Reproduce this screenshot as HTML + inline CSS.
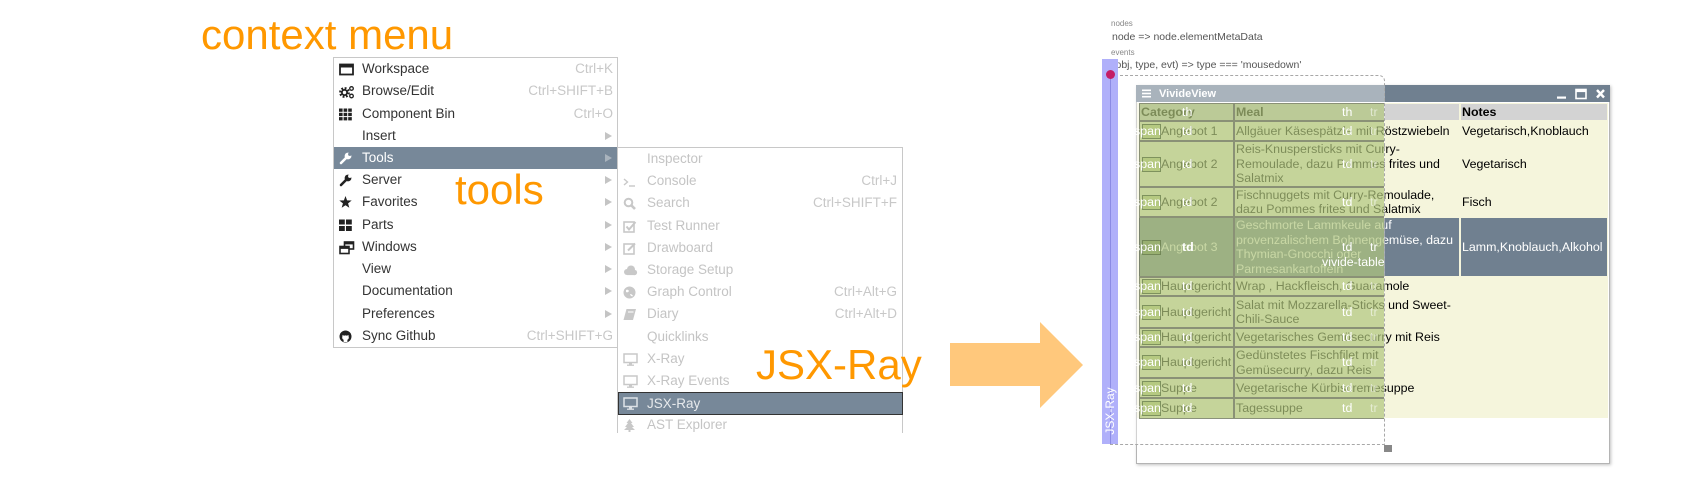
<!DOCTYPE html>
<html><head><meta charset="utf-8">
<style>
*{margin:0;padding:0;box-sizing:border-box}
body{width:1696px;height:490px;background:#fff;position:relative;overflow:hidden;font-family:"Liberation Sans",Arial,sans-serif}
.big{position:absolute;font-size:42px;line-height:42px;color:#ff9800;white-space:nowrap}
.menu{position:absolute;background:#fff;border:1px solid #c8c8c8}
.mi{position:absolute;left:0;right:0;height:22px;line-height:22px;font-size:13.5px;color:#333;white-space:nowrap}
.mi .t{position:absolute;left:28px;top:0}
.mi .k{position:absolute;right:4px;top:0;color:#c8c8c8}
.mi .a{position:absolute;right:5px;top:7px;width:0;height:0;border-top:4px solid transparent;border-bottom:4px solid transparent;border-left:7px solid #c4c4c4}
.mi svg{position:absolute;left:5px;top:5px}
.sub .mi{color:#c4c4c4}
.sub .mi .t{left:29px}
.sub .mi .k{right:5px}
.sm{position:absolute;font-size:8px;color:#888;white-space:nowrap;line-height:10px}
.code{position:absolute;font-size:10.5px;color:#555;white-space:nowrap;line-height:12px}
.c{position:absolute;display:flex;align-items:center;font-size:12.4px;line-height:14.5px;color:#000;white-space:nowrap}
.b{font-weight:bold}
.ov{position:absolute;left:1110px;top:75px;width:275px;height:370px;border:1px dashed #a8a8a8;border-top-right-radius:6px;background:rgba(255,255,255,0.4);overflow:hidden}
.g{position:absolute;background:rgba(145,175,74,0.5);border:1px solid rgba(90,90,90,0.55)}
.sp{position:absolute;left:31px;width:19px;height:15px;border:1px solid rgba(90,110,70,0.6);background:rgba(145,175,74,0.3)}
.l{position:absolute;font-size:12.4px;line-height:14px;color:#fff;white-space:nowrap}
.lt{color:rgba(255,255,255,0.55)}
</style></head><body>

<!-- big orange labels -->
<div class="big" style="left:201px;top:14px">context menu</div>

<!-- main menu -->
<div class="menu" style="left:333px;top:57px;width:285px;height:291px">
  <div class="mi" style="top:0px"><svg width="15" height="13" viewBox="0 0 15 13"><rect x="1" y="1.5" width="13" height="10" fill="none" stroke="#222" stroke-width="1.8"/><rect x="1" y="1.5" width="13" height="3" fill="#222"/></svg><span class="t">Workspace</span><span class="k">Ctrl+K</span></div>
  <div class="mi" style="top:22.2px"><svg width="16" height="14" viewBox="0 0 16 14"><circle cx="5.5" cy="7.5" r="4.2" fill="none" stroke="#222" stroke-width="2.4" stroke-dasharray="1.8 1.5"/><circle cx="5.5" cy="7.5" r="2.6" fill="none" stroke="#222" stroke-width="1.8"/><circle cx="12.5" cy="3.5" r="1.8" fill="none" stroke="#222" stroke-width="1.3"/><circle cx="12.5" cy="11" r="1.8" fill="none" stroke="#222" stroke-width="1.3"/></svg><span class="t">Browse/Edit</span><span class="k">Ctrl+SHIFT+B</span></div>
  <div class="mi" style="top:44.5px"><svg width="14" height="13" viewBox="0 0 14 13"><g fill="#222"><rect x="0" y="0.5" width="3.6" height="3.3"/><rect x="4.6" y="0.5" width="3.6" height="3.3"/><rect x="9.2" y="0.5" width="3.6" height="3.3"/><rect x="0" y="4.8" width="3.6" height="3.3"/><rect x="4.6" y="4.8" width="3.6" height="3.3"/><rect x="9.2" y="4.8" width="3.6" height="3.3"/><rect x="0" y="9.1" width="3.6" height="3.3"/><rect x="4.6" y="9.1" width="3.6" height="3.3"/><rect x="9.2" y="9.1" width="3.6" height="3.3"/></g></svg><span class="t">Component Bin</span><span class="k">Ctrl+O</span></div>
  <div class="mi" style="top:66.7px"><span class="t">Insert</span><span class="a"></span></div>
  <div class="mi" style="top:88.9px;background:#778899;color:#fff"><svg width="13" height="13" viewBox="0 0 13 13"><line x1="2" y1="11" x2="7.5" y2="5.5" stroke="#fff" stroke-width="2.6" stroke-linecap="round"/><circle cx="9" cy="4" r="3.4" fill="#fff"/><circle cx="10.8" cy="2.2" r="1.7" fill="#778899"/></svg><span class="t">Tools</span><span class="a" style="border-left-color:#a9b3bd"></span></div>
  <div class="mi" style="top:111.2px"><svg width="13" height="13" viewBox="0 0 13 13"><line x1="2" y1="11" x2="7.5" y2="5.5" stroke="#222" stroke-width="2.6" stroke-linecap="round"/><circle cx="9" cy="4" r="3.4" fill="#222"/><circle cx="10.8" cy="2.2" r="1.7" fill="#fff"/></svg><span class="t">Server</span><span class="a"></span></div>
  <div class="mi" style="top:133.4px"><svg width="13" height="13" viewBox="0 0 13 13"><polygon points="6.5,0 8.09,4.32 12.68,4.49 9.07,7.33 10.32,11.76 6.5,9.2 2.68,11.76 3.93,7.33 0.32,4.49 4.91,4.32" fill="#222"/></svg><span class="t">Favorites</span><span class="a"></span></div>
  <div class="mi" style="top:155.6px"><svg width="14" height="13" viewBox="0 0 14 13"><g fill="#222"><rect x="0" y="0.5" width="5.8" height="5"/><rect x="7" y="0.5" width="5.8" height="5"/><rect x="0" y="7" width="5.8" height="5"/><rect x="7" y="7" width="5.8" height="5"/></g></svg><span class="t">Parts</span><span class="a"></span></div>
  <div class="mi" style="top:177.8px"><svg width="16" height="14" viewBox="0 0 16 14"><rect x="5.5" y="1" width="9" height="7" fill="none" stroke="#222" stroke-width="1.6"/><rect x="5.5" y="1" width="9" height="2.4" fill="#222"/><rect x="1" y="5.5" width="9" height="7" fill="#fff" stroke="#222" stroke-width="1.6"/><rect x="1" y="5.5" width="9" height="2.4" fill="#222"/></svg><span class="t">Windows</span><span class="a"></span></div>
  <div class="mi" style="top:200.1px"><span class="t">View</span><span class="a"></span></div>
  <div class="mi" style="top:222.3px"><span class="t">Documentation</span><span class="a"></span></div>
  <div class="mi" style="top:244.5px"><span class="t">Preferences</span><span class="a"></span></div>
  <div class="mi" style="top:266.8px"><svg width="13" height="13" viewBox="0 0 13 13"><circle cx="6.5" cy="6.5" r="6" fill="#222"/><path d="M4.6 12 v-2.2 a2.6 2.6 0 0 1 -1.3 -3 l0.3 -1.9 l1.4 0.8 a4 4 0 0 1 3 0 l1.4 -0.8 l0.3 1.9 a2.6 2.6 0 0 1 -1.3 3 v2.2 z" fill="#fff"/></svg><span class="t">Sync Github</span><span class="k">Ctrl+SHIFT+G</span></div>
</div>

<!-- submenu -->
<div class="menu sub" style="left:617px;top:147px;width:286px;height:286px;border-bottom:none;overflow:hidden">
  <div class="mi" style="top:0px"><span class="t">Inspector</span></div>
  <div class="mi" style="top:22.2px"><svg width="13" height="13" viewBox="0 0 13 13"><polyline points="1,4 4.5,7 1,10" fill="none" stroke="#c8c8c8" stroke-width="1.4"/><line x1="6" y1="11" x2="12" y2="11" stroke="#c8c8c8" stroke-width="1.4"/></svg><span class="t">Console</span><span class="k">Ctrl+J</span></div>
  <div class="mi" style="top:44.4px"><svg width="13" height="13" viewBox="0 0 13 13"><circle cx="5.5" cy="5.5" r="3.8" fill="none" stroke="#c8c8c8" stroke-width="2"/><line x1="8.3" y1="8.3" x2="12" y2="12" stroke="#c8c8c8" stroke-width="2.6"/></svg><span class="t">Search</span><span class="k">Ctrl+SHIFT+F</span></div>
  <div class="mi" style="top:66.6px"><svg width="14" height="13" viewBox="0 0 14 13"><rect x="1" y="2" width="10" height="10" fill="none" stroke="#c8c8c8" stroke-width="1.6"/><polyline points="3.5,6.5 6,9.5 12.5,2" fill="none" stroke="#c8c8c8" stroke-width="2"/></svg><span class="t">Test Runner</span></div>
  <div class="mi" style="top:88.8px"><svg width="14" height="13" viewBox="0 0 14 13"><rect x="1" y="2" width="10" height="10" fill="none" stroke="#c8c8c8" stroke-width="1.6"/><line x1="5" y1="8.5" x2="12" y2="1.5" stroke="#c8c8c8" stroke-width="2"/></svg><span class="t">Drawboard</span></div>
  <div class="mi" style="top:111px"><svg width="15" height="13" viewBox="0 0 15 13"><g fill="#c8c8c8"><circle cx="4" cy="8" r="3"/><circle cx="8" cy="5.5" r="4"/><circle cx="11.5" cy="8.5" r="2.6"/><rect x="4" y="8" width="8" height="3.1"/></g></svg><span class="t">Storage Setup</span></div>
  <div class="mi" style="top:133.2px"><svg width="13" height="13" viewBox="0 0 13 13"><circle cx="6.5" cy="6.5" r="6" fill="#c8c8c8"/><path d="M3 4 q2 -1 3 1 q-1 2 -3 1z M7 8 q2 0 3 2 q-2 1 -3 -2z" fill="#fff"/></svg><span class="t">Graph Control</span><span class="k">Ctrl+Alt+G</span></div>
  <div class="mi" style="top:155.4px"><svg width="14" height="13" viewBox="0 0 14 13"><polygon points="3.5,1 13,1 10,12 0.5,12" fill="#c8c8c8"/><line x1="5" y1="4" x2="10.5" y2="4" stroke="#fff" stroke-width="1"/></svg><span class="t">Diary</span><span class="k">Ctrl+Alt+D</span></div>
  <div class="mi" style="top:177.6px"><span class="t">Quicklinks</span></div>
  <div class="mi" style="top:199.8px"><svg width="15" height="13" viewBox="0 0 15 13"><rect x="1" y="1" width="13" height="8.5" fill="none" stroke="#c8c8c8" stroke-width="1.5"/><rect x="6" y="10" width="3" height="1.5" fill="#c8c8c8"/><line x1="4" y1="12.2" x2="11" y2="12.2" stroke="#c8c8c8" stroke-width="1.3"/></svg><span class="t">X-Ray</span></div>
  <div class="mi" style="top:222px"><svg width="15" height="13" viewBox="0 0 15 13"><rect x="1" y="1" width="13" height="8.5" fill="none" stroke="#c8c8c8" stroke-width="1.5"/><rect x="6" y="10" width="3" height="1.5" fill="#c8c8c8"/><line x1="4" y1="12.2" x2="11" y2="12.2" stroke="#c8c8c8" stroke-width="1.3"/></svg><span class="t">X-Ray Events</span></div>
  <div class="mi" style="top:266.4px"><svg width="13" height="13" viewBox="0 0 13 13"><polygon points="6.5,0 9.5,4 8,4 11,8 9,8 12,11 1,11 4,8 2,8 5,4 3.5,4" fill="#c8c8c8"/><rect x="5.5" y="11" width="2" height="2" fill="#c8c8c8"/></svg><span class="t">AST Explorer</span></div>
</div>
<!-- JSX-Ray highlight -->
<div class="mi" style="position:absolute;left:618px;right:auto;width:285px;top:392px;height:23px;background:#778899;border:1px solid #333;color:#e6e9ec;font-size:13.5px;line-height:21px"><svg width="15" height="13" viewBox="0 0 15 13" style="left:4px;top:4px"><rect x="1" y="1" width="13" height="8.5" fill="none" stroke="#dde2e7" stroke-width="1.5"/><rect x="6" y="10" width="3" height="1.5" fill="#dde2e7"/><line x1="4" y1="12.2" x2="11" y2="12.2" stroke="#dde2e7" stroke-width="1.3"/></svg><span class="t" style="left:28px">JSX-Ray</span></div>

<div class="big" style="left:455px;top:169px">tools</div>
<div class="big" style="left:756px;top:344px">JSX-Ray</div>

<!-- big arrow -->
<svg style="position:absolute;left:0;top:0" width="1696" height="490"><polygon points="950,343 1040,343 1040,322 1083,365 1040,408 1040,386 950,386" fill="#ffc87c"/></svg>

<!-- top texts -->
<div class="sm" style="left:1111px;top:19px">nodes</div>
<div class="code" style="left:1112px;top:31px">node =&gt; node.elementMetaData</div>
<div class="sm" style="left:1111px;top:48px">events</div>
<div class="code" style="left:1112px;top:59px">(obj, type, evt) =&gt; type === 'mousedown'</div>

<!-- window -->
<div style="position:absolute;left:1136px;top:85px;width:474px;height:379px;background:#fff;border:1px solid #b4b4b4;box-shadow:1px 1px 3px rgba(0,0,0,0.25)"></div>
<div style="position:absolute;left:1136px;top:85px;width:474px;height:17px;background:#708090"></div>
<svg style="position:absolute;left:1142px;top:89px" width="9" height="9" viewBox="0 0 9 9"><rect x="0" y="0.5" width="9" height="1.6" fill="#fff"/><rect x="0" y="3.7" width="9" height="1.6" fill="#fff"/><rect x="0" y="6.9" width="9" height="1.6" fill="#fff"/></svg>
<div style="position:absolute;left:1159px;top:87px;font-size:11px;line-height:14px;font-weight:bold;color:#fff">VivideView</div>
<svg style="position:absolute;left:1556px;top:88px" width="50" height="12" viewBox="0 0 50 12"><rect x="1" y="8.5" width="9" height="2.2" fill="#fff"/><rect x="20" y="1.5" width="10" height="9" fill="none" stroke="#fff" stroke-width="1.6"/><rect x="20" y="1.5" width="10" height="2.6" fill="#fff"/><path d="M41 2 L48 9.5 M48 2 L41 9.5" stroke="#fff" stroke-width="2.4"/></svg>

<!-- table base -->
<div style="position:absolute;left:1137px;top:103px;width:471px;height:315px;background:#f5f5dc"></div>
<div style="position:absolute;left:1139px;top:104px;width:94px;height:16px;background:#d3d3d3"></div>
<div style="position:absolute;left:1235px;top:104px;width:224px;height:16px;background:#d3d3d3"></div>
<div style="position:absolute;left:1461px;top:104px;width:146px;height:16px;background:#d3d3d3"></div>
<div style="position:absolute;left:1139px;top:218px;width:94px;height:58px;background:#708090"></div>
<div style="position:absolute;left:1235px;top:218px;width:224px;height:58px;background:#708090"></div>
<div style="position:absolute;left:1461px;top:218px;width:146px;height:58px;background:#708090"></div>

<div class="c b" style="left:1141px;top:103px;height:18px">Category</div>
<div class="c b" style="left:1236px;top:103px;height:18px">Meal</div>
<div class="c b" style="left:1462px;top:103px;height:18px">Notes</div>

<div class="c" style="left:1161px;top:121px;height:20px">Angebot 1</div>
<div class="c" style="left:1236px;top:121px;height:20px">Allgäuer Käsespätzle mit Röstzwiebeln</div>
<div class="c" style="left:1462px;top:121px;height:20px">Vegetarisch,Knoblauch</div>

<div class="c" style="left:1161px;top:141px;height:46px">Angebot 2</div>
<div class="c" style="left:1236px;top:141px;height:46px">Reis-Knuspersticks mit Curry-<br>Remoulade, dazu Pommes frites und<br>Salatmix</div>
<div class="c" style="left:1462px;top:141px;height:46px">Vegetarisch</div>

<div class="c" style="left:1161px;top:187px;height:30px">Angebot 2</div>
<div class="c" style="left:1236px;top:187px;height:30px">Fischnuggets mit Curry-Remoulade,<br>dazu Pommes frites und Salatmix</div>
<div class="c" style="left:1462px;top:187px;height:30px">Fisch</div>

<div class="c" style="left:1161px;top:217px;height:60px;color:#fff">Angebot 3</div>
<div class="c" style="left:1236px;top:217px;height:60px;color:#fff">Geschmorte Lammkeule auf<br>provenzalischem Bohnengemüse, dazu<br>Thymian-Gnocchi oder<br>Parmesankartoffeln</div>
<div class="c" style="left:1462px;top:217px;height:60px;color:#fff">Lamm,Knoblauch,Alkohol</div>

<div class="c" style="left:1161px;top:277px;height:19px">Hauptgericht</div>
<div class="c" style="left:1236px;top:277px;height:19px">Wrap , Hackfleisch, Guacamole</div>

<div class="c" style="left:1161px;top:296px;height:32px">Hauptgericht</div>
<div class="c" style="left:1236px;top:296px;height:32px">Salat mit Mozzarella-Sticks und Sweet-<br>Chili-Sauce</div>

<div class="c" style="left:1161px;top:328px;height:19px">Hauptgericht</div>
<div class="c" style="left:1236px;top:328px;height:19px">Vegetarisches Gemüsecurry mit Reis</div>

<div class="c" style="left:1161px;top:347px;height:31px">Hauptgericht</div>
<div class="c" style="left:1236px;top:347px;height:31px">Gedünstetes Fischfilet mit<br>Gemüsecurry, dazu Reis</div>

<div class="c" style="left:1161px;top:378px;height:20px">Suppe</div>
<div class="c" style="left:1236px;top:378px;height:20px">Vegetarische Kürbiscremesuppe</div>

<div class="c" style="left:1161px;top:398px;height:21px">Suppe</div>
<div class="c" style="left:1236px;top:398px;height:21px">Tagessuppe</div>

<!-- JSX-Ray overlay -->
<div class="ov">
  <!-- header -->
  <div class="g" style="left:28px;top:27px;width:95px;height:18px"></div>
  <div class="g" style="left:123px;top:27px;width:226px;height:18px"></div>
  <!-- rows -->
  <div class="g" style="left:28px;top:45px;width:95px;height:20px"></div><div class="g" style="left:123px;top:45px;width:226px;height:20px"></div>
  <div class="g" style="left:28px;top:65px;width:95px;height:46px"></div><div class="g" style="left:123px;top:65px;width:226px;height:46px"></div>
  <div class="g" style="left:28px;top:111px;width:95px;height:30px"></div><div class="g" style="left:123px;top:111px;width:226px;height:30px"></div>
  <div class="g" style="left:28px;top:141px;width:95px;height:60px"></div><div class="g" style="left:123px;top:141px;width:226px;height:60px"></div>
  <div class="g" style="left:28px;top:201px;width:95px;height:19px"></div><div class="g" style="left:123px;top:201px;width:226px;height:19px"></div>
  <div class="g" style="left:28px;top:220px;width:95px;height:32px"></div><div class="g" style="left:123px;top:220px;width:226px;height:32px"></div>
  <div class="g" style="left:28px;top:252px;width:95px;height:19px"></div><div class="g" style="left:123px;top:252px;width:226px;height:19px"></div>
  <div class="g" style="left:28px;top:271px;width:95px;height:31px"></div><div class="g" style="left:123px;top:271px;width:226px;height:31px"></div>
  <div class="g" style="left:28px;top:302px;width:95px;height:20px"></div><div class="g" style="left:123px;top:302px;width:226px;height:20px"></div>
  <div class="g" style="left:28px;top:322px;width:95px;height:21px"></div><div class="g" style="left:123px;top:322px;width:226px;height:21px"></div>

  <!-- span boxes -->
  <div class="sp" style="top:48px"></div>
  <div class="sp" style="top:81px"></div>
  <div class="sp" style="top:119px"></div>
  <div class="sp" style="top:164px"></div>
  <div class="sp" style="top:203px"></div>
  <div class="sp" style="top:229px"></div>
  <div class="sp" style="top:254px"></div>
  <div class="sp" style="top:279px"></div>
  <div class="sp" style="top:305px"></div>
  <div class="sp" style="top:325px"></div>

  <!-- labels header -->
  <div class="l" style="left:71px;top:29px">th</div>
  <div class="l" style="left:231px;top:29px">th</div>
  <div class="l lt" style="left:259px;top:29px">tr</div>

  <div class="l" style="left:23px;top:48px">span</div><div class="l" style="left:71px;top:48px">td</div><div class="l" style="left:231px;top:48px">td</div><div class="l lt" style="left:259px;top:48px">tr</div>
  <div class="l" style="left:23px;top:81px">span</div><div class="l" style="left:71px;top:81px">td</div><div class="l" style="left:231px;top:81px">td</div><div class="l lt" style="left:259px;top:81px">tr</div>
  <div class="l" style="left:23px;top:119px">span</div><div class="l" style="left:71px;top:119px">td</div><div class="l" style="left:231px;top:119px">td</div><div class="l lt" style="left:259px;top:119px">tr</div>
  <div class="l" style="left:23px;top:164px">span</div><div class="l b" style="left:71px;top:164px">td</div><div class="l" style="left:231px;top:164px">td</div><div class="l" style="left:259px;top:164px">tr</div>
  <div class="l" style="left:23px;top:203px">span</div><div class="l" style="left:71px;top:203px">td</div><div class="l" style="left:231px;top:203px">td</div><div class="l lt" style="left:259px;top:203px">tr</div>
  <div class="l" style="left:23px;top:229px">span</div><div class="l" style="left:71px;top:229px">td</div><div class="l" style="left:231px;top:229px">td</div><div class="l lt" style="left:259px;top:229px">tr</div>
  <div class="l" style="left:23px;top:254px">span</div><div class="l" style="left:71px;top:254px">td</div><div class="l" style="left:231px;top:254px">td</div><div class="l lt" style="left:259px;top:254px">tr</div>
  <div class="l" style="left:23px;top:279px">span</div><div class="l" style="left:71px;top:279px">td</div><div class="l" style="left:231px;top:279px">td</div><div class="l lt" style="left:259px;top:279px">tr</div>
  <div class="l" style="left:23px;top:305px">span</div><div class="l" style="left:71px;top:305px">td</div><div class="l" style="left:231px;top:305px">td</div><div class="l lt" style="left:259px;top:305px">tr</div>
  <div class="l" style="left:23px;top:325px">span</div><div class="l" style="left:71px;top:325px">td</div><div class="l" style="left:231px;top:325px">td</div><div class="l lt" style="left:259px;top:325px">tr</div>

  <div class="l" style="left:211px;top:179px">vivide-table</div>
</div>

<!-- resize handle -->
<div style="position:absolute;left:1384px;top:445px;width:8px;height:7px;background:#888"></div>

<!-- purple bar -->
<div style="position:absolute;left:1102px;top:59px;width:16px;height:385px;background:#b0b0fa"></div>
<div style="position:absolute;left:1110px;top:75px;width:1px;height:369px;background:rgba(110,110,210,0.55)"></div>
<div style="position:absolute;left:1086px;top:404px;width:48px;height:14px;font-size:12px;line-height:14px;color:#fff;text-align:center;transform:rotate(-90deg);white-space:nowrap">JSX-Ray</div>
<div style="position:absolute;left:1106px;top:70px;width:9px;height:9px;border-radius:50%;background:#c41e66"></div>

</body></html>
